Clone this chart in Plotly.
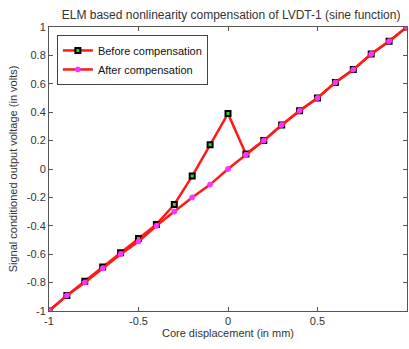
import plotly.graph_objects as go

# Core displacement (mm)
displacement = [-1.0, -0.9, -0.8, -0.7, -0.6, -0.5, -0.4, -0.3, -0.2, -0.1, 0.0,
                0.1, 0.2, 0.3, 0.4, 0.5, 0.6, 0.7, 0.8, 0.9, 1.0]
# Signal conditioned output voltage (V)
before_comp = [-1.0, -0.89, -0.79, -0.69, -0.59, -0.49, -0.39, -0.25, -0.05, 0.17, 0.39,
               0.105, 0.2, 0.31, 0.41, 0.5, 0.61, 0.7, 0.81, 0.9, 1.0]
after_comp = [-1.0, -0.89, -0.8, -0.7, -0.6, -0.51, -0.4, -0.3, -0.2, -0.11, 0.0,
              0.1, 0.2, 0.31, 0.41, 0.5, 0.61, 0.7, 0.81, 0.9, 1.0]

x_ticks = [-1, -0.5, 0, 0.5, 1]
x_tick_text = ["-1", "-0.5", "0", "0.5", "1"]
y_ticks = [-1, -0.8, -0.6, -0.4, -0.2, 0, 0.2, 0.4, 0.6, 0.8, 1]
y_tick_text = ["-1", "-0.8", "-0.6", "-0.4", "-0.2", "0", "0.2", "0.4", "0.6", "0.8", "1"]

FONT = "Liberation Sans, Arial"

fig = go.Figure()
fig.add_trace(go.Scatter(
    x=displacement, y=before_comp, mode="lines+markers", name="Before compensation",
    line=dict(color="#ff1a1a", width=2.5),
    marker=dict(symbol="square", size=5, color="#22dd22",
                line=dict(color="black", width=2)),
))
fig.add_trace(go.Scatter(
    x=displacement, y=after_comp, mode="lines+markers", name="After compensation",
    line=dict(color="#ff1a1a", width=2.5),
    marker=dict(symbol="circle", size=5, color="#ff33ff",
                line=dict(color="#ff33ff", width=1)),
))

axis_common = dict(
    showgrid=False, zeroline=False, showline=True, mirror="ticks",
    linecolor="#555555", linewidth=1, ticks="inside", ticklen=4,
    tickcolor="#555555", tickfont=dict(family=FONT, size=11, color="#333333"),
)

fig.update_layout(
    width=409, height=349,
    margin=dict(l=49, r=2, t=27, b=38),
    paper_bgcolor="white", plot_bgcolor="white",
    title=dict(text="ELM based nonlinearity compensation of LVDT-1 (sine function)",
               x=0.565, xanchor="center", y=0.957, yanchor="middle",
               font=dict(family=FONT, size=12, color="#333333")),
    xaxis=dict(range=[-1, 1], tickvals=x_ticks, ticktext=x_tick_text,
               title=dict(text="Core displacement (in mm)", standoff=3,
                          font=dict(family=FONT, size=11, color="#333333")),
               **axis_common),
    yaxis=dict(range=[-1, 1], tickvals=y_ticks, ticktext=y_tick_text,
               title=dict(text="Signal conditioned output voltage (in volts)", standoff=6,
                          font=dict(family=FONT, size=11, color="#333333")),
               **axis_common),
    legend=dict(x=0.022, y=0.972, xanchor="left", yanchor="top",
                bgcolor="white", bordercolor="#444444", borderwidth=1,
                font=dict(family=FONT, size=11, color="#111111"),
                tracegroupgap=0, itemwidth=30),
    showlegend=True,
)

fig.write_html("out.html")
